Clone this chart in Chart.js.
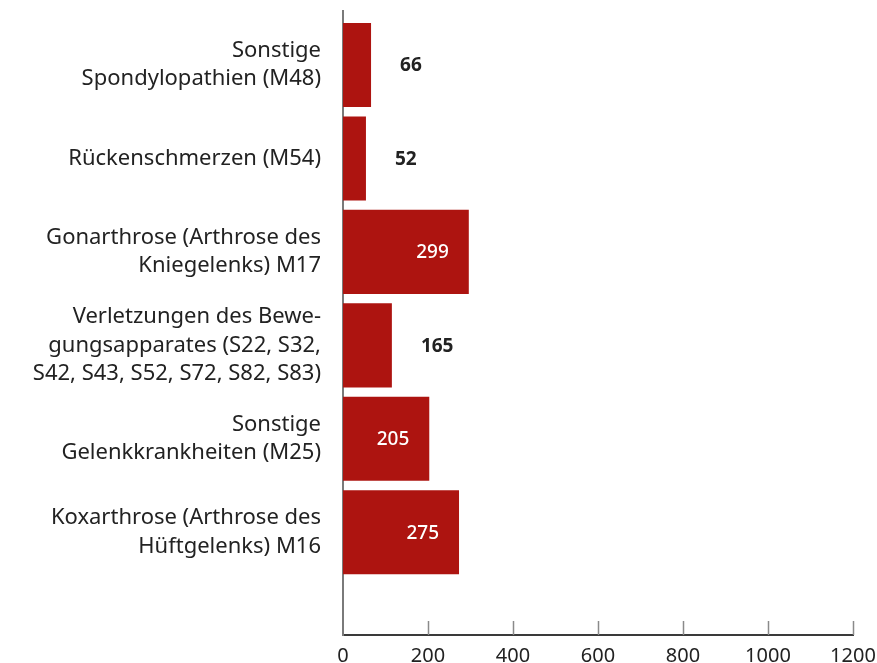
<!DOCTYPE html>
<html>
<head>
<meta charset="utf-8">
<script src="https://cdn.jsdelivr.net/npm/chart.js@4/dist/chart.umd.min.js"></script>
<style>
  html, body { margin: 0; padding: 0; background: #fff; }
  #wrap { width: 877px; height: 663px; }
</style>
</head>
<body>
<div id="wrap"><canvas id="chart" width="877" height="663"></canvas></div>
<script>
// ── Data ──────────────────────────────────────────────────────────────
const categories = [
  ['Sonstige', 'Spondylopathien (M48)'],
  ['Rückenschmerzen (M54)'],
  ['Gonarthrose (Arthrose des', 'Kniegelenks) M17'],
  ['Verletzungen des Bewe-', 'gungsapparates (S22, S32,', 'S42, S43, S52, S72, S82, S83)'],
  ['Sonstige', 'Gelenkkrankheiten (M25)'],
  ['Koxarthrose (Arthrose des', 'Hüftgelenks) M16'],
];
// bar lengths as drawn in the picture
const barValues   = [66, 54, 296, 115, 203, 273];
// numbers printed next to / inside the bars
const valueLabels = ['66', '52', '299', '165', '205', '275'];
const labelInside = [false, false, true, false, true, true];
const xTicks = [0, 200, 400, 600, 800, 1000, 1200];

const COLORS = {
  bar:    '#ad1410',
  text:   '#222222',
  axisY:  '#7a7a7a',
  axisX:  '#3a3a3a',
  tick:   '#8a8a8a',
};
const FONT = '"Noto Sans", "Open Sans", sans-serif';

// ── Plugin: inward x ticks + value labels ─────────────────────────────
const extras = {
  id: 'extras',
  afterDatasetsDraw(chart) {
    const { ctx, chartArea, scales } = chart;
    const x = scales.x;
    ctx.save();
    ctx.strokeStyle = COLORS.tick;
    ctx.lineWidth = 1.5;
    xTicks.slice(1).forEach(v => {
      const px = Math.round(x.getPixelForValue(v)) + 0.5;
      ctx.beginPath();
      ctx.moveTo(px, chartArea.bottom);
      ctx.lineTo(px, chartArea.bottom - 14);
      ctx.stroke();
    });

    const meta = chart.getDatasetMeta(0);
    ctx.textBaseline = 'middle';
    meta.data.forEach((bar, i) => {
      if (labelInside[i]) {
        ctx.fillStyle = '#ffffff';
        ctx.font = `500 19px ${FONT}`;
        ctx.textAlign = 'right';
        ctx.fillText(valueLabels[i], bar.x - 20, bar.y + 1);
      } else {
        ctx.fillStyle = COLORS.text;
        ctx.font = `bold 19px ${FONT}`;
        ctx.textAlign = 'left';
        ctx.fillText(valueLabels[i], bar.x + 29, bar.y + 1);
      }
    });
    ctx.restore();
  },
};

// ── Chart ─────────────────────────────────────────────────────────────
new Chart(document.getElementById('chart'), {
  type: 'bar',
  data: {
    datasets: [{
      data: barValues.map((v, i) => ({ x: v, y: i })),
      backgroundColor: COLORS.bar,
      borderWidth: 0,
      barPercentage: 0.9,
      categoryPercentage: 1,
    }],
  },
  options: {
    indexAxis: 'y',
    responsive: false,
    animation: false,
    layout: { padding: { top: 11, right: 24, left: 0, bottom: 0 } },
    plugins: {
      legend: { display: false },
      tooltip: { enabled: false },
    },
    scales: {
      x: {
        type: 'linear',
        min: 0, max: 1200,
        afterBuildTicks: s => { s.ticks = xTicks.map(v => ({ value: v })); },
        afterFit: s => { s.height = 28; s.paddingLeft = 0; s.paddingRight = 0; },
        grid: { display: false, drawTicks: false },
        border: { display: true, color: COLORS.axisX, width: 2 },
        ticks: {
          color: COLORS.text, padding: 9,
          font: { family: FONT, size: 20 },
          callback: v => String(v),
        },
      },
      y: {
        type: 'linear',
        reverse: true,
        offset: false,
        min: -0.578, max: 6.1,
        afterBuildTicks: s => { s.ticks = categories.map((_, i) => ({ value: i })); },
        afterFit: s => { s.width = 343; s.paddingTop = 0; s.paddingBottom = 0; },
        grid: { display: false, drawTicks: false, offset: false },
        border: { display: true, color: COLORS.axisY, width: 2 },
        ticks: {
          color: COLORS.text,
          padding: 22,
          autoSkip: false,
          font: { family: FONT, size: 22, lineHeight: 1.28 },
          callback: v => categories[v] || '',
        },
      },
    },
  },
  plugins: [extras],
});
</script>
</body>
</html>
